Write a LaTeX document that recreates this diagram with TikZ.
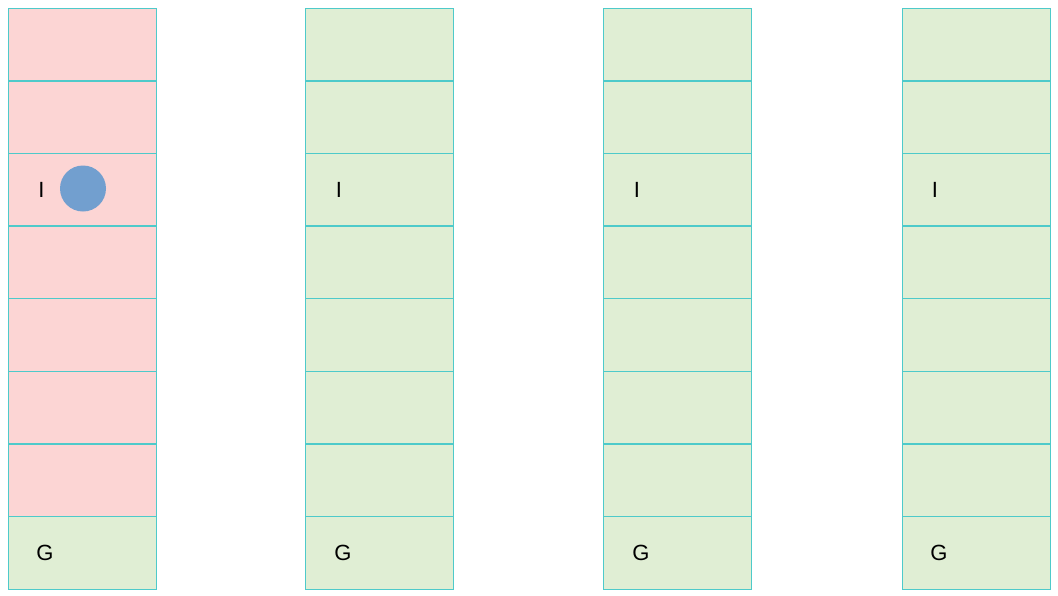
\documentclass[tikz,border=0pt]{standalone}
\usepackage{fontspec}
\setmainfont{Liberation Sans}
\definecolor{pinkfill}{HTML}{FCD5D4}
\definecolor{greenfill}{HTML}{E0EED4}
\definecolor{tealline}{HTML}{4ECACA}
\definecolor{dotblue}{HTML}{729FCF}
\begin{document}
\begin{tikzpicture}[x=1pt,y=-1pt,
  cell/.style={minimum width=148pt,minimum height=72.6pt,inner sep=0pt,anchor=north west},
  lbl/.style={font=\fontsize{22}{24}\selectfont,inner sep=0pt}]
\useasboundingbox (0,0) rectangle (1058,595);
\foreach \c/\x in {1/8.3,2/305.2,3/603.3,4/902}{
  \foreach \r in {1,...,8}{
    \pgfmathsetmacro{\yy}{8+(\r-1)*72.625}
    \ifnum\c=1
      \ifnum\r<8
        \node[cell,fill=pinkfill] (c\c-\r) at (\x,\yy) {};
      \else
        \node[cell,fill=greenfill] (c\c-\r) at (\x,\yy) {};
      \fi
    \else
      \node[cell,fill=greenfill] (c\c-\r) at (\x,\yy) {};
    \fi
  }
}
\foreach \c in {1,...,4}{
  \foreach \r in {1,...,8}{
    \draw[tealline,line width=1pt] (c\c-\r.north west) rectangle (c\c-\r.south east);
  }
}
\node[lbl] (i1) at (41.5,189.5) {I};
\node[lbl] (i2) at (339,189.5) {I};
\node[lbl] (i3) at (637,189.5) {I};
\node[lbl] (i4) at (935,189.5) {I};
\node[lbl] (g1) at (45,553) {G};
\node[lbl] (g2) at (343,553) {G};
\node[lbl] (g3) at (641,553) {G};
\node[lbl] (g4) at (939,553) {G};
\node[circle,fill=dotblue,minimum size=46pt,inner sep=0pt] (dot) at (83,188.5) {};
\end{tikzpicture}
\end{document}
